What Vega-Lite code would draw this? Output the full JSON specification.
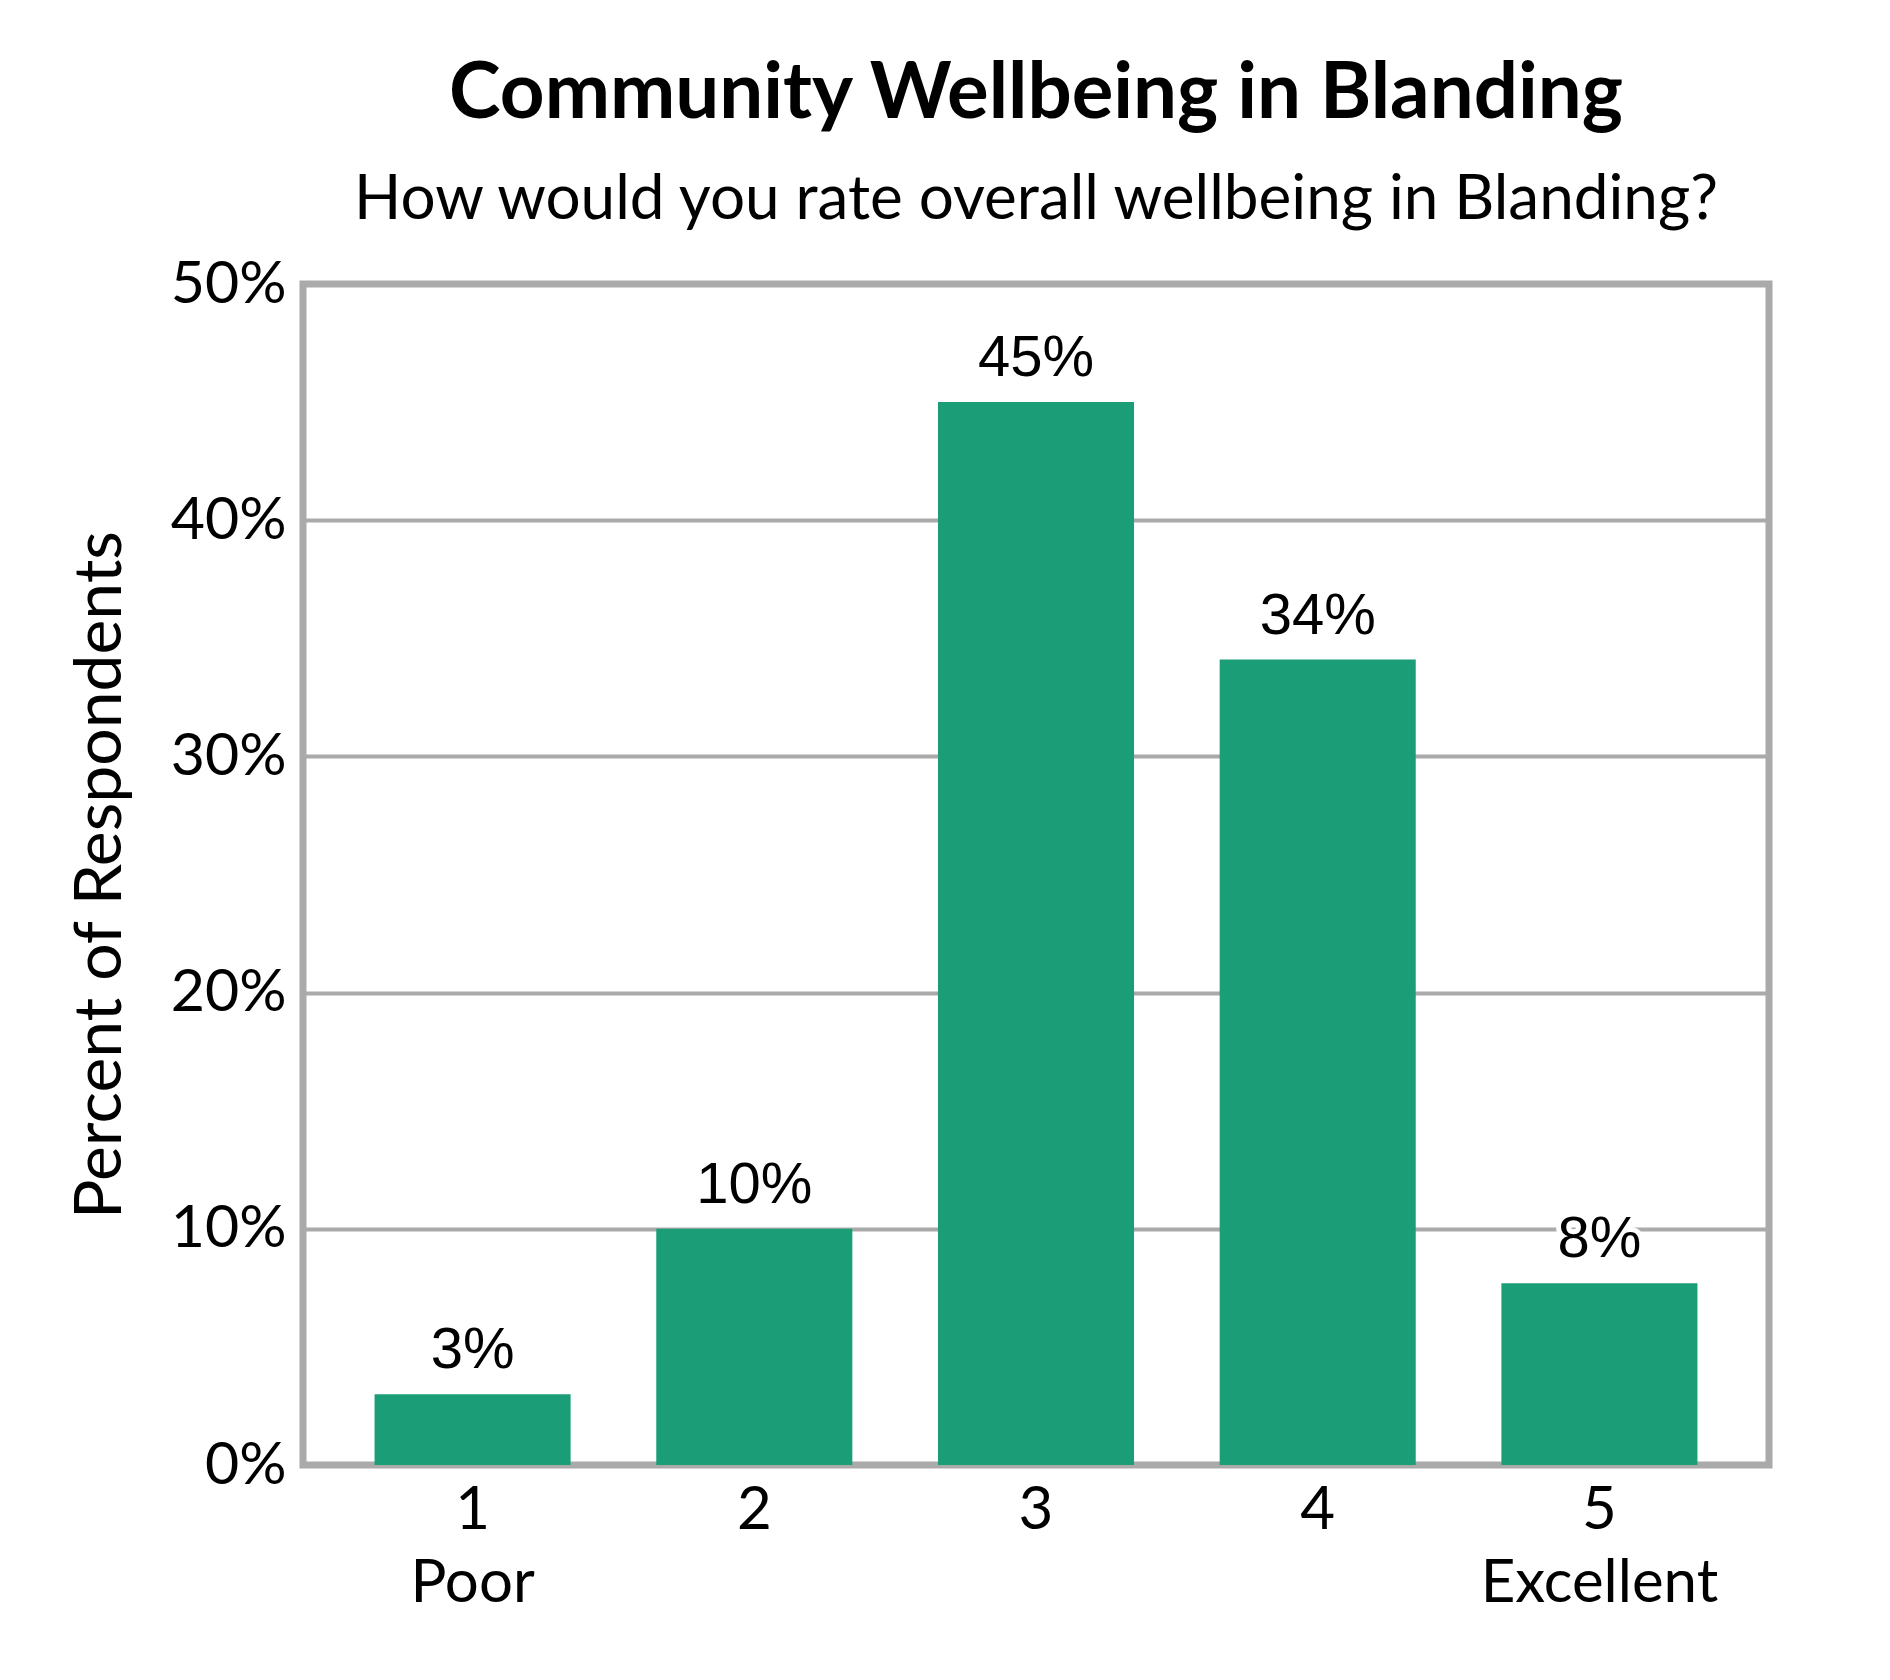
{
  "$schema": "https://vega.github.io/schema/vega-lite/v6.json",
  "description": "Community wellbeing in Blanding, rating 1-5.",
  "autosize": "none",
  "width": 1466,
  "height": 1181,
  "padding": {"left": 303, "top": 284, "right": 100, "bottom": 200},
  "background": "white",
  "title": {
    "text": "Community Wellbeing in Blanding",
    "subtitle": "How would you rate overall wellbeing in Blanding?",
    "anchor": "middle",
    "frame": "group",
    "font": "Lato",
    "fontSize": 78,
    "fontWeight": "bold",
    "color": "black",
    "subtitleFont": "Lato",
    "subtitleFontSize": 62,
    "subtitleColor": "black",
    "subtitlePadding": 36,
    "offset": 24
  },
  "data": {
    "values": [
      {"rating": "1", "pct": 0.030},
      {"rating": "2", "pct": 0.100},
      {"rating": "3", "pct": 0.450},
      {"rating": "4", "pct": 0.341},
      {"rating": "5", "pct": 0.077}
    ]
  },
  "encoding": {
    "x": {
      "field": "rating",
      "type": "ordinal",
      "scale": {"paddingInner": 0.304, "paddingOuter": 0.254},
      "axis": {
        "title": null,
        "labelAngle": 0,
        "ticks": false,
        "domain": false,
        "labelPadding": 16,
        "labelFont": "Lato",
        "labelFontSize": 60,
        "labelColor": "black",
        "labelLineHeight": 73,
        "labelLimit": 0,
        "labelExpr": "datum.label == '1' ? ['1', 'Poor'] : datum.label == '5' ? ['5', 'Excellent'] : datum.label"
      }
    },
    "y": {
      "field": "pct",
      "type": "quantitative",
      "scale": {"domain": [0, 0.5]},
      "axis": {
        "title": "Percent of Respondents",
        "values": [0, 0.1, 0.2, 0.3, 0.4, 0.5],
        "format": ".0%",
        "ticks": false,
        "domain": false,
        "grid": true,
        "gridColor": "#aaaaaa",
        "gridWidth": 4,
        "labelPadding": 17,
        "labelFont": "Lato",
        "labelFontSize": 59,
        "labelColor": "black",
        "titleFont": "Lato",
        "titleFontSize": 66,
        "titleFontWeight": "normal",
        "titleColor": "black",
        "titlePadding": 36
      }
    }
  },
  "layer": [
    {
      "mark": {"type": "bar", "color": "#1b9e77"}
    },
    {
      "mark": {
        "type": "text",
        "baseline": "alphabetic",
        "dy": -26,
        "font": "Liberation Sans",
        "fontSize": 58,
        "stroke": "white",
        "strokeWidth": 10,
        "color": "white"
      },
      "encoding": {"text": {"field": "pct", "type": "quantitative", "format": ".0%"}}
    },
    {
      "mark": {
        "type": "text",
        "baseline": "alphabetic",
        "dy": -26,
        "font": "Liberation Sans",
        "fontSize": 58,
        "color": "black"
      },
      "encoding": {"text": {"field": "pct", "type": "quantitative", "format": ".0%"}}
    }
  ],
  "config": {
    "view": {"stroke": "#aaaaaa", "strokeWidth": 7}
  }
}
